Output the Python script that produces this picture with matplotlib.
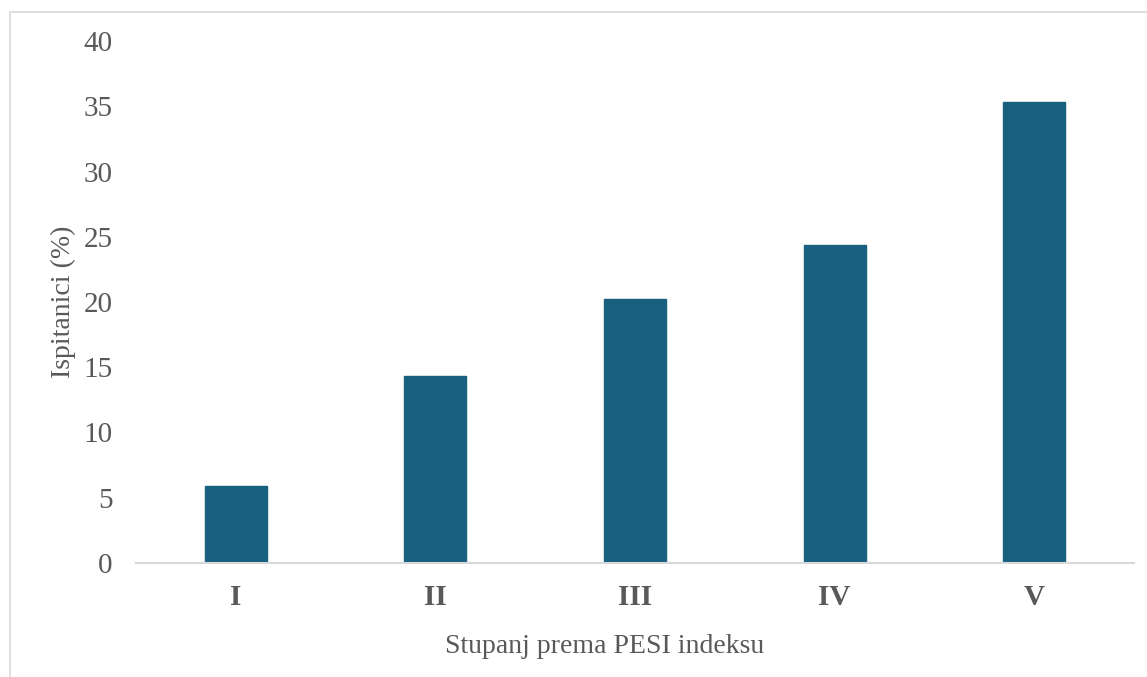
import numpy as np
import matplotlib.pyplot as plt
from matplotlib.patches import Rectangle

# data
stupnjevi = ['I', 'II', 'III', 'IV', 'V']
postotak = [5.9, 14.3, 20.2, 24.4, 35.3]

plt.rcParams['font.family'] = ['Liberation Serif', 'DejaVu Serif']

fig = plt.figure(figsize=(11.47, 6.77), dpi=100)
ax = fig.add_axes([136/1147, 1 - 563/677, (1134-136)/1147, (563-41)/677])

# light frame around the chart area
fig.patches.append(Rectangle((10/1147, -0.05), 1.2, 1 - 12/677 + 0.05,
                             transform=fig.transFigure, fill=False,
                             edgecolor='#d9d9d9', linewidth=1.2))

x = np.arange(len(stupnjevi))
ax.bar(x, postotak, width=0.31, color='#17607f', edgecolor='#17607f')

ax.set_xlim(-0.5, len(stupnjevi) - 0.5)
ax.set_ylim(0, 40)
ax.set_yticks(np.arange(0, 41, 5))
ax.set_xticks(x)
ax.set_xticklabels(stupnjevi, fontweight='bold')

for s in ['top', 'right', 'left']:
    ax.spines[s].set_visible(False)
ax.spines['bottom'].set_color('#d9d9d9')
ax.spines['bottom'].set_linewidth(1.5)

ax.tick_params(axis='both', length=0, labelsize=21, colors='#595959')
ax.tick_params(axis='y', pad=17)
ax.tick_params(axis='x', pad=15)

ax.set_ylabel('Ispitanici (%)', fontsize=20, color='#595959')
ax.yaxis.set_label_coords(-0.06, 0.5)
ax.set_xlabel('Stupanj prema PESI indeksu', fontsize=20, color='#595959', labelpad=17)
ax.xaxis.label.set_x(0.47)

fig.savefig('out.png', dpi=100)
